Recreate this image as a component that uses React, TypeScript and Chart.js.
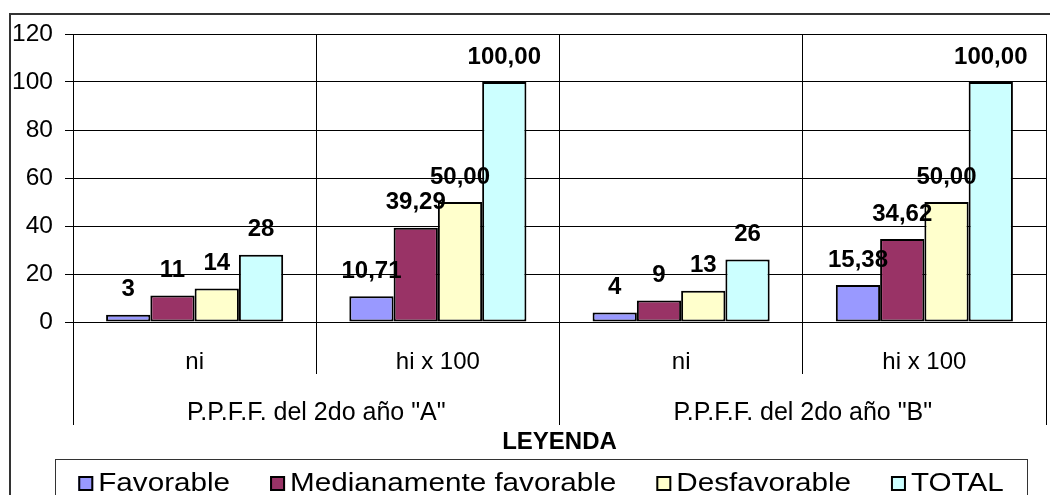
import { useEffect, useRef } from 'react';
import { Chart, registerables } from 'chart.js';

Chart.register(...registerables);

// ---- Data ----
const categories = ['ni', 'hi x 100', 'ni', 'hi x 100'];
const groups = ['P.P.F.F. del 2do año "A"', 'P.P.F.F. del 2do año "B"'];
const seriesNames = ['Favorable', 'Medianamente favorable', 'Desfavorable', 'TOTAL'];
const favorable = [3, 10.71, 4, 15.38];
const medianamente = [11, 39.29, 9, 34.62];
const desfavorable = [14, 50, 13, 50];
const total = [28, 100, 26, 100];
const yTicks = [0, 20, 40, 60, 80, 100, 120];
const legendTitle = 'LEYENDA';

const seriesValues = [favorable, medianamente, desfavorable, total];
const seriesColors = ['#9999FF', '#993366', '#FFFFCC', '#CCFFFF'];

const FONT = '"Liberation Sans", Arial, Helvetica, sans-serif';

function formatValue(v: number, catIndex: number): string {
  if (categories[catIndex] === 'hi x 100') return v.toFixed(2).replace('.', ',');
  return String(Math.round(v));
}

const decorPlugin = {
  id: 'decor',
  beforeDraw(chart: any) {
    const ctx = chart.ctx;
    ctx.save();
    ctx.fillStyle = '#ffffff';
    ctx.fillRect(0, 0, chart.width, chart.height);
    ctx.restore();
  },
  afterDraw(chart: any) {
    const ctx = chart.ctx;
    const area = chart.chartArea;
    ctx.save();
    // outer frame (top and left edges visible)
    ctx.strokeStyle = '#333';
    ctx.lineWidth = 2;
    ctx.beginPath();
    ctx.moveTo(10, chart.height);
    ctx.lineTo(10, 14);
    ctx.lineTo(chart.width, 14);
    ctx.stroke();

    // data labels
    ctx.fillStyle = '#000';
    ctx.font = `bold 24px ${FONT}`;
    ctx.textAlign = 'center';
    ctx.textBaseline = 'middle';
    chart.data.datasets.forEach((ds: any, i: number) => {
      const meta = chart.getDatasetMeta(i);
      meta.data.forEach((bar: any, j: number) => {
        ctx.fillText(formatValue(ds.data[j], j), bar.x, bar.y - 25);
      });
    });

    // legend title
    ctx.textBaseline = 'alphabetic';
    ctx.fillText(legendTitle, (area.left + area.right) / 2, 449);

    // legend box
    ctx.strokeStyle = '#333';
    ctx.lineWidth = 1;
    ctx.strokeRect(55.5, 459.5, 972, 60);

    // legend items
    const sx = 1.14;
    const sq = 15;
    const gapText = 5;
    const gapItem = 40;
    ctx.font = `26px ${FONT}`;
    ctx.textAlign = 'left';
    const widths = seriesNames.map((n) => ctx.measureText(n).width * sx);
    const totalW = widths.reduce((a, b) => a + b, 0) + seriesNames.length * (sq + gapText) + (seriesNames.length - 1) * gapItem;
    let x = (55 + 1027) / 2 - totalW / 2;
    seriesNames.forEach((name, i) => {
      ctx.fillStyle = seriesColors[i];
      ctx.fillRect(x, 476, sq, sq);
      ctx.strokeStyle = '#000';
      ctx.lineWidth = 2;
      ctx.strokeRect(x + 1, 477, sq - 2, sq - 2);
      ctx.fillStyle = '#000';
      ctx.save();
      ctx.translate(x + sq + gapText, 491);
      ctx.scale(sx, 1);
      ctx.fillText(name, 0, 0);
      ctx.restore();
      x += sq + gapText + widths[i] + gapItem;
    });
    ctx.restore();
  },
};

export default function App() {
  const canvasRef = useRef<HTMLCanvasElement | null>(null);

  useEffect(() => {
    if (!canvasRef.current) return;
    const chart = new Chart(canvasRef.current, {
      type: 'bar',
      data: {
        labels: categories,
        datasets: seriesNames.map((name, i) => ({
          label: name,
          data: seriesValues[i],
          backgroundColor: seriesColors[i],
          borderColor: '#000',
          borderWidth: 2,
          borderSkipped: false,
          categoryPercentage: 0.728,
          barPercentage: 1,
          xAxisID: 'x',
        })),
      },
      options: {
        responsive: false,
        animation: false,
        devicePixelRatio: 1,
        layout: { padding: { left: 9, right: 4, top: 34, bottom: 70 } },
        plugins: {
          legend: { display: false },
          tooltip: { enabled: false },
        },
        scales: {
          y: {
            min: yTicks[0],
            max: yTicks[yTicks.length - 1],
            ticks: {
              stepSize: yTicks[1] - yTicks[0],
              color: '#000',
              font: { family: FONT, size: 24.5 },
              padding: 12,
            },
            grid: { color: '#000', lineWidth: 1, tickLength: 8, drawTicks: true },
            border: { display: true, color: '#000', width: 1 },
            afterFit(scale: any) {
              scale.width = 64;
            },
          },
          x: {
            type: 'category',
            weight: 0,
            offset: true,
            ticks: {
              color: '#000',
              font: { family: FONT, size: 24 },
              padding: -25.8,
              maxRotation: 0,
              autoSkip: false,
            },
            grid: { color: '#000', lineWidth: 1, offset: true, tickLength: 52, drawOnChartArea: true, drawTicks: true },
            border: { display: true, color: '#000', width: 1 },
            afterFit(scale: any) {
              scale.height = 52;
            },
          },
          x2: {
            type: 'category',
            position: 'bottom',
            weight: 1,
            labels: groups,
            offset: true,
            ticks: {
              color: '#000',
              font: { family: FONT, size: 25 },
              padding: -26.5,
              maxRotation: 0,
              autoSkip: false,
            },
            grid: { color: '#000', lineWidth: 1, offset: true, tickLength: 51, drawOnChartArea: false, drawTicks: true },
            border: { display: false },
            afterFit(scale: any) {
              scale.height = 51;
            },
          },
        },
      } as any,
      plugins: [decorPlugin],
    });
    return () => chart.destroy();
  }, []);

  return (
    <div style={{ position: 'fixed', left: 0, top: 0, width: 1050, height: 495, background: '#fff' }}>
      <canvas ref={canvasRef} width={1050} height={495} style={{ width: 1050, height: 495, display: 'block' }} />
    </div>
  );
}
